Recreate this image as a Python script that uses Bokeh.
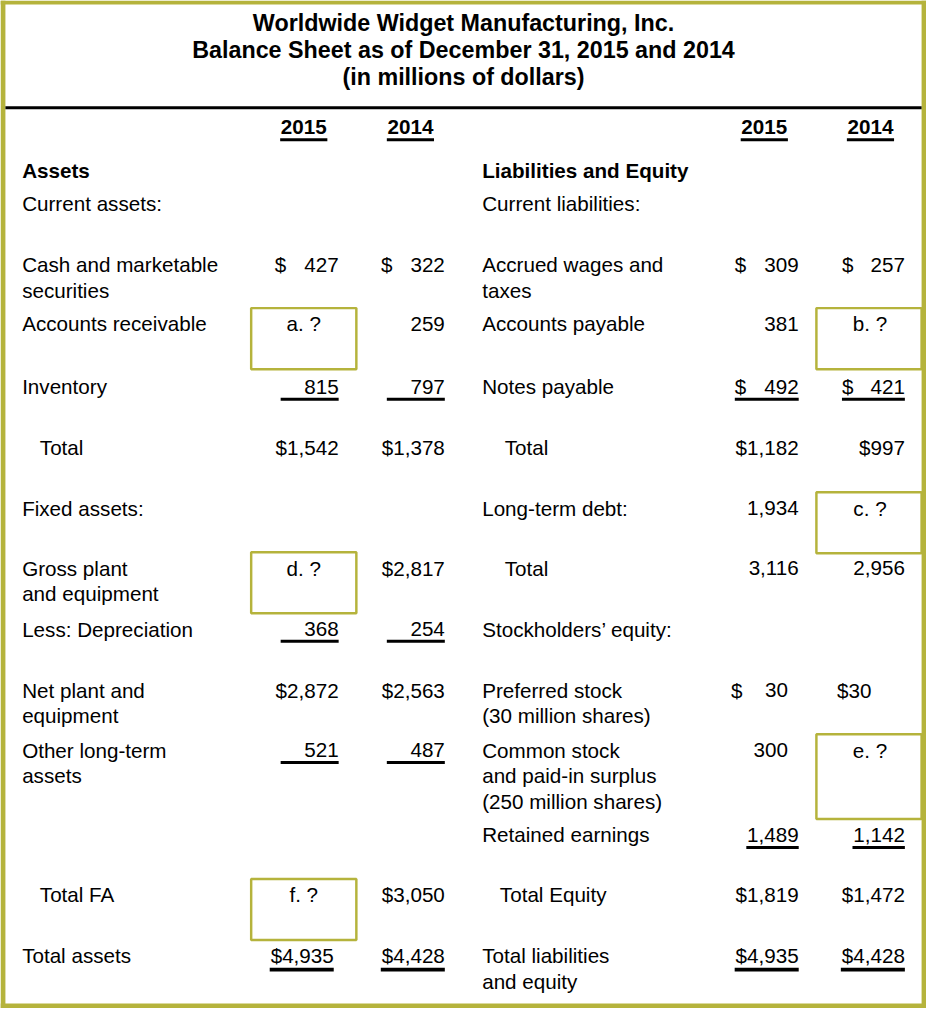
from bokeh.plotting import figure
from bokeh.models import Range1d, ColumnDataSource
from bokeh.core.properties import value
from bokeh.embed import file_html
from bokeh.resources import INLINE

# ---------------- data ----------------
title_lines = ["Worldwide Widget Manufacturing, Inc.",
               "Balance Sheet as of December 31, 2015 and 2014",
               "(in millions of dollars)"]
years = ["2015", "2014"]
section_titles = ["Assets", "Liabilities and Equity"]
subsection_titles = ["Current assets:", "Current liabilities:"]

asset_labels = [
    ["Cash and marketable", "securities"],
    ["Accounts receivable"],
    ["Inventory"],
    ["Total"],
    ["Fixed assets:"],
    ["Gross plant", "and equipment"],
    ["Less: Depreciation"],
    ["Net plant and", "equipment"],
    ["Other long-term", "assets"],
    [],
    ["Total FA"],
    ["Total assets"],
]
assets_2015 = ["$ 427", "a. ?", "815", "$1,542", "", "d. ?", "368", "$2,872", "521", "", "f. ?", "$4,935"]
assets_2014 = ["$ 322", "259", "797", "$1,378", "", "$2,817", "254", "$2,563", "487", "", "$3,050", "$4,428"]

liab_labels = [
    ["Accrued wages and", "taxes"],
    ["Accounts payable"],
    ["Notes payable"],
    ["Total"],
    ["Long-term debt:"],
    ["Total"],
    ["Stockholders\u2019 equity:"],
    ["Preferred stock", "(30 million shares)"],
    ["Common stock", "and paid-in surplus", "(250 million shares)"],
    ["Retained earnings"],
    ["Total Equity"],
    ["Total liabilities", "and equity"],
]
liab_2015 = ["$ 309", "381", "$ 492", "$1,182", "1,934", "3,116", "", "$ 30", "300", "1,489", "$1,819", "$4,935"]
liab_2014 = ["$ 257", "b. ?", "$ 421", "$997", "c. ?", "2,956", "", "$30", "e. ?", "1,142", "$1,472", "$4,428"]

# ---------------- layout / style ----------------
W, H = 926, 1008
RW, RH = 942, 1024
S = W / RW
FONT = "Liberation Sans"
OLIVE = "#B5B33C"
BODY = 21
TITLE = 23.7

row_base = [277, 337, 401, 462, 524, 585, 647, 709, 770, 856, 917, 979]
line_gap = 26

p = figure(width=W, height=H, x_range=Range1d(0, RW), y_range=Range1d(RH, 0),
           output_backend="svg", toolbar_location=None, min_border=0)
p.axis.visible = False
p.xgrid.visible = False
p.ygrid.visible = False
p.outline_line_color = None
p.background_fill_color = "white"
p.border_fill_color = "white"


def txt(xs, ys, texts, align="left", size=BODY, bold=False):
    off = 0.4 * size
    src = ColumnDataSource(dict(x=xs, y=[y - off for y in ys], t=texts))
    p.text(x="x", y="y", text="t", source=src, text_align=align,
           text_baseline="alphabetic", text_font=value(FONT),
           text_font_size=f"{size * S:.2f}px",
           text_font_style="bold" if bold else "normal", text_color="black")


def hline(x0, x1, y, w):
    p.segment(x0=[x0], y0=[y], x1=[x1], y1=[y], line_color="black", line_width=w * S)


# approximate Arial advance widths (em) for digit strings
CW = {"$": 0.556, ",": 0.278, " ": 0.278, ".": 0.278}


def twidth(s):
    return sum(CW.get(c, 0.556) for c in s) * 21.3


# frame
p.quad(left=[0, RW - 5, 0, 0], right=[5, RW, RW, RW],
       top=[0, 0, 0, RH - 5], bottom=[RH, RH, 4, RH],
       fill_color=OLIVE, line_color=None)
p.quad(left=[5], right=[RW - 5], top=[107.5], bottom=[110.5], fill_color="black", line_color=None)

# titles
txt([471] * 3, [32, 60, 87], title_lines, align="center", size=TITLE, bold=True)

# year headers
year_centers = [308.5, 417, 777, 885]
txt(year_centers, [137] * 4, years * 2, align="center", bold=True)
for c in year_centers:
    hline(c - 24, c + 24, 141.5, 3)

# section headings
txt([22, 490], [181, 181], section_titles, bold=True)
txt([22, 490], [215, 215], subsection_titles)

sides = [
    dict(labels=asset_labels, vals=[assets_2015, assets_2014], lx=22,
         indent={3: 40, 10: 40}, right=[344, 452], dollar=[279, 387],
         box=[(255, 362), (255, 362)], box_h={},
         ul={2: "col", 6: "col", 8: "col", 11: "double"},
         override={(0, 11): dict(right=339)}),
    dict(labels=liab_labels, vals=[liab_2015, liab_2014], lx=490,
         indent={3: 513, 5: 513, 10: 508}, right=[812, 920], dollar=[747, 856],
         box=[(830, RW - 5), (830, RW - 5)], box_h={8: 86},
         ul={2: "col", 9: "text", 11: "double"},
         override={(0, 7): dict(right=801, dollar=743), (0, 8): dict(right=801),
                   (1, 7): dict(left=851)}),
]

for sd in sides:
    lx, ly, lt = [], [], []
    for i, lines in enumerate(sd["labels"]):
        for k, line in enumerate(lines):
            lx.append(sd["indent"].get(i, sd["lx"]))
            ly.append(row_base[i] + k * line_gap)
            lt.append(line)
    txt(lx, ly, lt)

    rx, ry, rt = [], [], []
    lxs, lys, lts = [], [], []
    cx, cy, ct = [], [], []
    for c, vals in enumerate(sd["vals"]):
        for i, v in enumerate(vals):
            if not v:
                continue
            y = row_base[i]
            ov = sd["override"].get((c, i), {})
            right = ov.get("right", sd["right"][c])
            dollar = ov.get("dollar", sd["dollar"][c])
            if "?" in v:
                b0, b1 = sd["box"][c]
                hgt = sd["box_h"].get(i, 62)
                p.quad(left=[b0], right=[b1], top=[y - 24.5], bottom=[y - 24.5 + hgt],
                       fill_color=None, line_color=OLIVE, line_width=2.5 * S)
                cx.append(sd["right"][c] - 35.5)
                cy.append(y)
                ct.append(v)
                continue
            if "left" in ov:
                lxs.append(ov["left"]); lys.append(y); lts.append(v)
            elif v.startswith("$ "):
                lxs.append(dollar); lys.append(y); lts.append("$")
                rx.append(right); ry.append(y); rt.append(v[2:].strip())
            else:
                rx.append(right); ry.append(y); rt.append(v)
            kind = sd["ul"].get(i)
            if kind == "col":
                start = dollar if v.startswith("$") else dollar + 6
                hline(start, right, y + 4, 3)
            elif kind == "text":
                hline(right - twidth(v), right, y + 4.5, 3)
            elif kind == "double":
                hline(right - twidth(v), right, y + 5.5, 4)
    txt(rx, ry, rt, align="right")
    txt(lxs, lys, lts, align="left")
    txt(cx, cy, ct, align="center")

open("out.html", "w").write(file_html(p, INLINE))
